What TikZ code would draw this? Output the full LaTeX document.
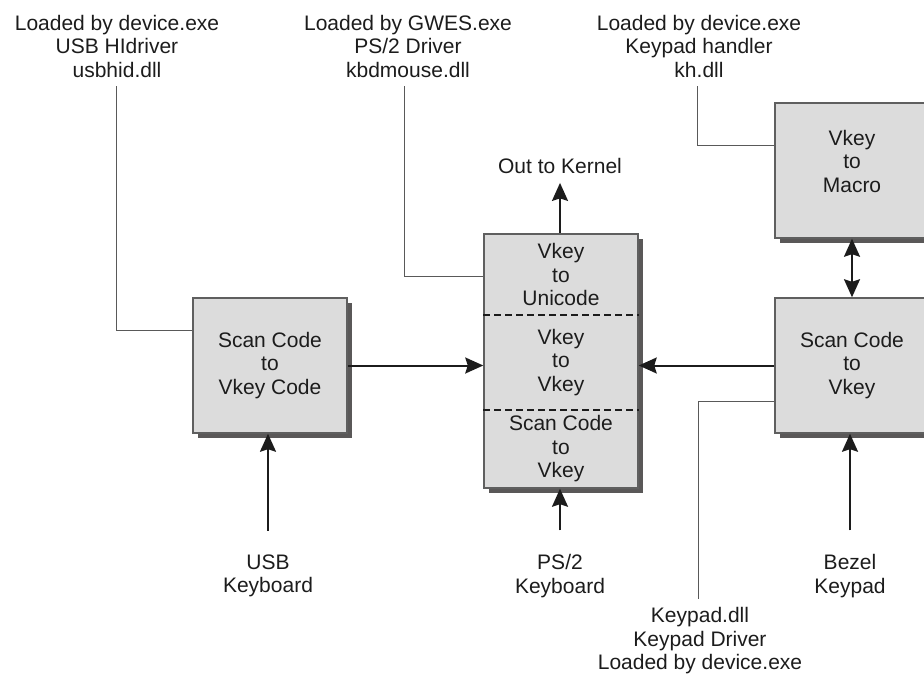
\documentclass[tikz,border=0pt]{standalone}
\usepackage{fontspec}
\setmainfont{Liberation Sans}
\usetikzlibrary{arrows.meta,shadows}
\definecolor{boxgray}{HTML}{DCDCDC}
\definecolor{shadegray}{HTML}{5A5858}
\definecolor{edgegray}{HTML}{5F5F5F}
\definecolor{inkgray}{HTML}{1C1C1C}
\begin{document}
\begin{tikzpicture}[x=1pt, y=-1pt,
                    every node/.style={font=\fontsize{21}{23.5}\selectfont, text=inkgray, align=center, inner sep=0pt},
                    block/.style={draw=edgegray, line width=1.5pt, fill=boxgray, minimum width=154pt,
                                  drop shadow={shadow xshift=5pt, shadow yshift=-5pt, fill=shadegray, opacity=1}},
                    >={Stealth[length=18pt, width=16pt, inset=2.5pt]},
                    flow/.style={draw=inkgray, line width=2pt},
                    link/.style={draw=black!65, line width=1pt},
                    divider/.style={draw=inkgray, line width=1.6pt, dash pattern=on 7pt off 4pt}]
  \useasboundingbox (0,0) rectangle (924,679);
  % boxes
  \node[block, minimum height=135pt] (usb) at (270,365.5) {Scan Code\\to\\Vkey Code};
  \node[block, minimum height=254pt] (stack) at (561,361) {};
  \node[block, minimum height=135pt] (macro) at (852,170.5) {};
  \node[block, minimum height=135pt] (bezel) at (852,365.5) {Scan Code\\to\\Vkey};
  \node (macrotext) at (852,161) {Vkey\\to\\Macro};
  \node (unicode) at (561,274.5) {Vkey\\to\\Unicode};
  \node (vkvk) at (561,362.5) {Vkey\\to\\Vkey};
  \node (scvk) at (561,449) {Scan Code\\to\\Vkey};
  \coordinate (cutA) at (561,315);
  \coordinate (cutB) at (561,410);
  \draw[divider] (stack.west |- cutA) -- (stack.east |- cutA);
  \draw[divider] (stack.west |- cutB) -- (stack.east |- cutB);
  % labels
  \node (usbhid) at (117,46) {Loaded by device.exe\\USB HIdriver\\usbhid.dll};
  \node (kbdmouse) at (408,46) {Loaded by GWES.exe\\PS/2 Driver\\kbdmouse.dll};
  \node (khdll) at (699,46) {Loaded by device.exe\\Keypad handler\\kh.dll};
  \node (kernel) at (560,166) {Out to Kernel};
  \node (usbkbd) at (268,576) {USB\\Keyboard};
  \node (ps2kbd) at (560,576) {PS/2\\Keyboard};
  \node (bezelkbd) at (850,576) {Bezel\\Keypad};
  \node (keypaddll) at (700,641) {Keypad.dll\\Keypad Driver\\Loaded by device.exe};
  % thin leaders
  \coordinate (usbbend) at (116,330);
  \coordinate (ps2bend) at (404,277);
  \coordinate (khbend) at (697,146);
  \coordinate (padbend) at (698,401);
  \draw[link, shorten <=9pt] (usbbend |- usbhid.south) -- (usbbend) -- (usb.west |- usbbend);
  \draw[link, shorten <=9pt] (ps2bend |- kbdmouse.south) -- (ps2bend) -- (stack.west |- ps2bend);
  \draw[link, shorten <=9pt] (khbend |- khdll.south) -- (khbend) -- (macro.west |- khbend);
  \draw[link, shorten <=9pt] (padbend |- keypaddll.north) -- (padbend) -- (bezel.west |- padbend);
  % arrows
  \draw[flow, ->, shorten >=9pt] (kernel.south |- stack.north) -- (kernel.south);
  \draw[flow, ->] (usb.east) -- (stack.west |- usb.east);
  \draw[flow, ->] (bezel.west) -- (stack.east |- bezel.west);
  \draw[flow, <->] (macro.south) -- (bezel.north);
  \draw[flow, ->, shorten <=24pt] (usbkbd.north) -- (usbkbd.north |- usb.south);
  \draw[flow, ->, shorten <=24pt] (ps2kbd.north) -- (ps2kbd.north |- stack.south);
  \draw[flow, ->, shorten <=24pt] (bezelkbd.north) -- (bezelkbd.north |- bezel.south);
\end{tikzpicture}
\end{document}
